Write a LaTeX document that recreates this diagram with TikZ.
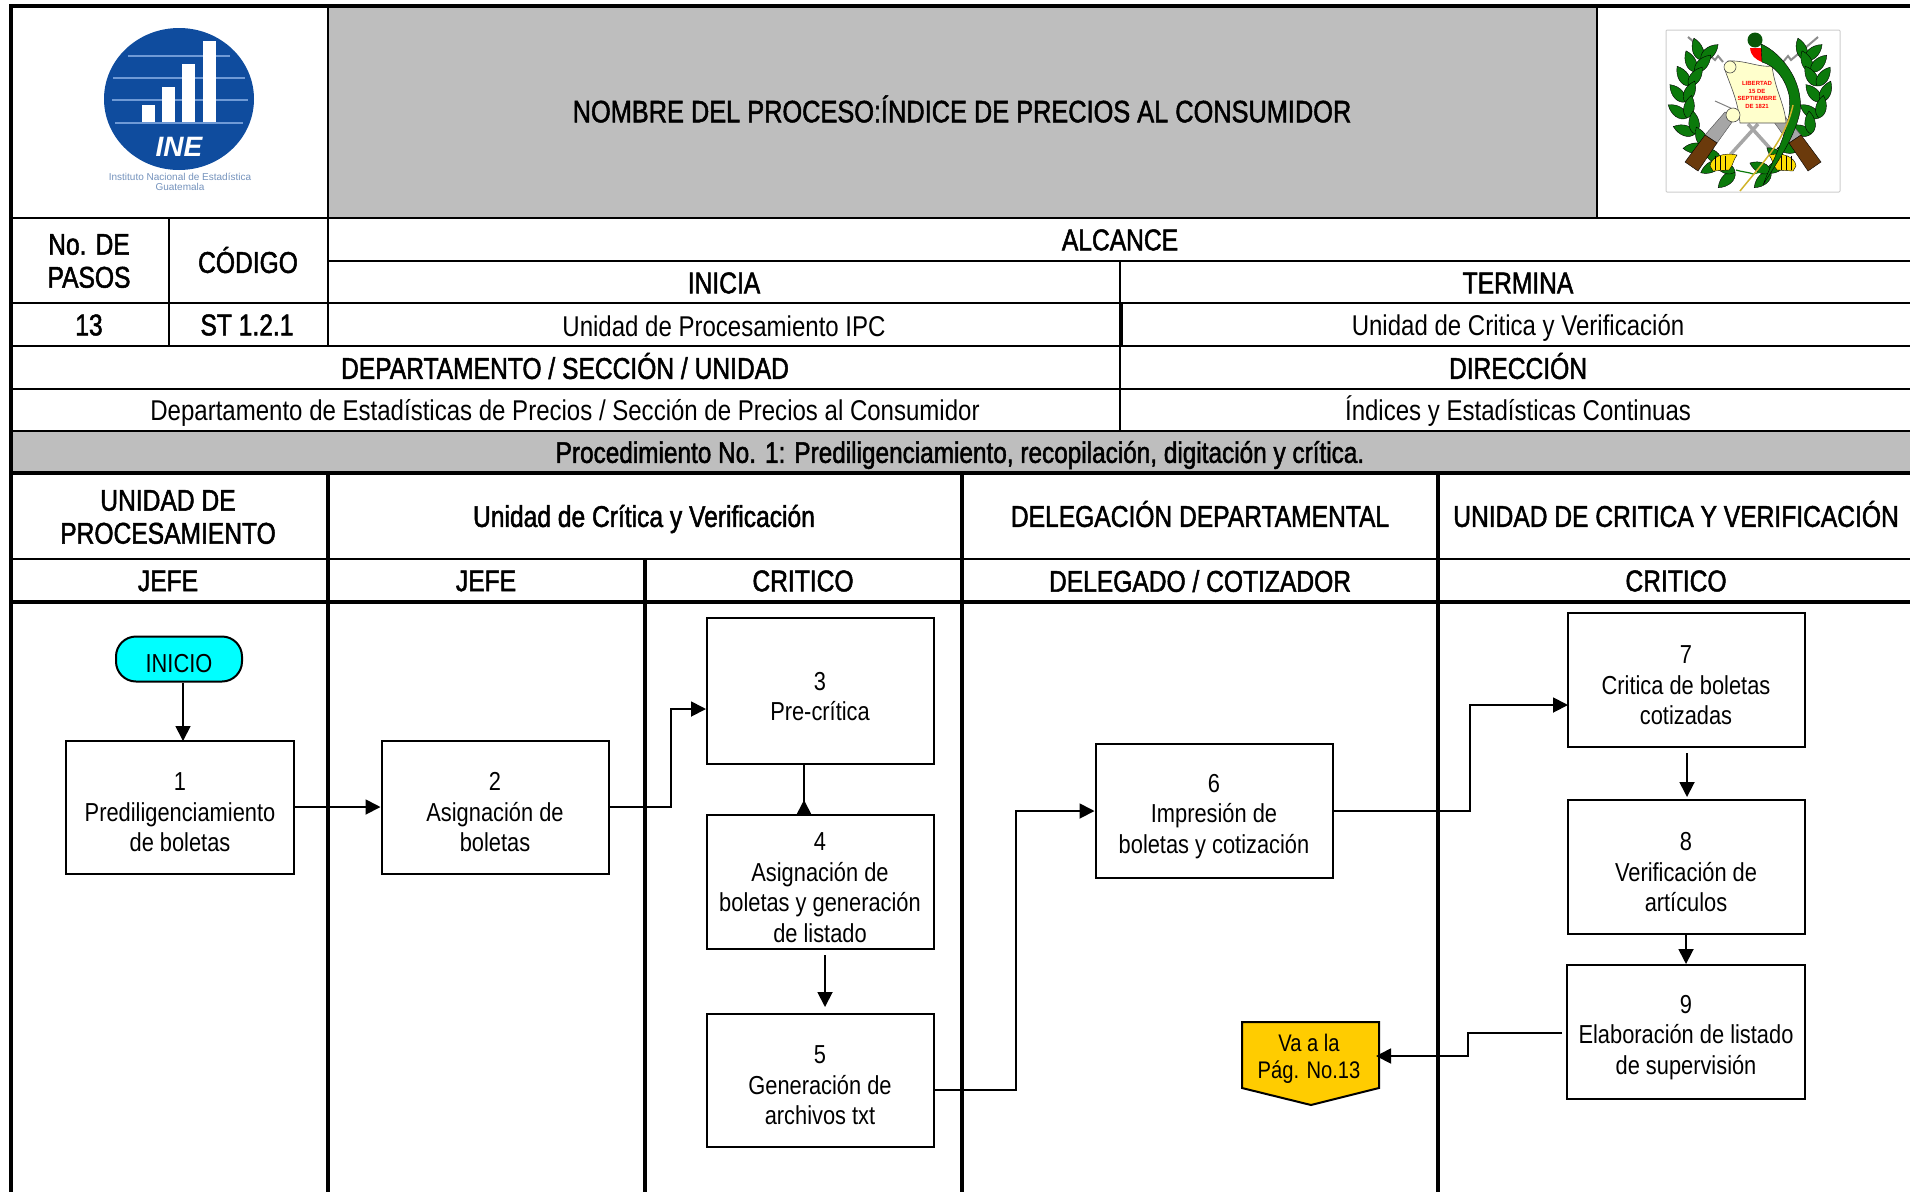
\documentclass[tikz,border=0pt]{standalone}
\usepackage{fontspec}
\setmainfont{Liberation Sans}
\newfontfamily\narrowfont[FakeStretch=0.84]{Liberation Sans}
\newfontfamily\headfont[FakeStretch=0.82,FakeBold=1.6]{Liberation Sans}
\usepackage{tikz}
\usetikzlibrary{arrows.meta}
\definecolor{bandgray}{HTML}{BEBEBE}
\definecolor{inicyan}{HTML}{00FFFF}
\definecolor{vayellow}{HTML}{FFCC00}
\definecolor{ineblue}{HTML}{0F4C9E}
\definecolor{ineline}{HTML}{6F9AD6}
\definecolor{leafgreen}{HTML}{0B7A0B}
\definecolor{stockbrown}{HTML}{6B3A0C}
\definecolor{scrollcream}{HTML}{FFFFCC}
\newcommand{\stepnum}[1]{\rule{0pt}{29pt}#1}
\tikzset{
  thinrule/.style={line width=2.4pt},
  thickrule/.style={line width=4.4pt},
  headtext/.style={font=\headfont\fontsize{30}{33}\selectfont, align=center, inner sep=0pt},
  celltext/.style={font=\narrowfont\fontsize{28.6}{31}\selectfont, align=center, inner sep=0pt},
  stepbox/.style={draw, line width=2pt, fill=white, inner sep=0pt, align=center,
    font=\narrowfont\fontsize{26}{30.5}\selectfont},
  flowline/.style={line width=1.8pt, -{Triangle[length=15pt,width=15pt]}},
  leaf/.pic={\fill[leafgreen,draw=black,line width=.4pt] (0,0) .. controls (4,7) and (15,7) .. (23,0) .. controls (15,-7) and (4,-7) .. (0,0);}
}
\begin{document}
\begin{tikzpicture}[x=1pt,y=-1pt]
  \useasboundingbox (0,0) rectangle (1910,1192);
  %bands
  \fill[bandgray] (328,6) rectangle (1597,218);
  \fill[bandgray] (11,431) rectangle (1910,473);
  %horizontal rules
  \foreach \y in {218,303,346,389,431,559}
      \draw[thinrule] (11,\y) -- (1910,\y);
  \draw[thinrule] (328,261) -- (1910,261);
  \foreach \y in {6,473,602}
      \draw[thickrule] (9,\y) -- (1910,\y);
  %vertical rules
  \draw[thickrule] (11,4) -- (11,1192);
  \draw[thinrule] (328,6) -- (328,346);
  \draw[thinrule] (169,218) -- (169,346);
  \draw[thinrule] (1120,261) -- (1120,431);
  \draw[thickrule] (1121,303) -- (1121,346);
  \draw[thinrule] (1597,6) -- (1597,218);
  \foreach \x in {328,962,1438}
      \draw[thickrule] (\x,473) -- (\x,1192);
  \draw[thickrule] (645,559) -- (645,1192);

  %header
  \node[headtext, font=\headfont\fontsize{30.9}{33}\selectfont] (title) at (962,109) {NOMBRE DEL PROCESO:ÍNDICE DE PRECIOS AL CONSUMIDOR};
  \node[headtext] (pasos) at (89,261) {No. DE\\PASOS};
  \node[headtext] (codigo) at (248,260) {CÓDIGO};
  \node[headtext] (alcance) at (1120,240) {ALCANCE};
  \node[headtext] (inicia) at (724,283) {INICIA};
  \node[headtext] (termina) at (1518,283) {TERMINA};
  \node[headtext] (numpasos) at (89,325) {13};
  \node[headtext] (numcodigo) at (247,325) {ST 1.2.1};
  \node[celltext] (desde) at (724,326) {Unidad de Procesamiento IPC};
  \node[celltext] (hasta) at (1518,328) {Unidad de Critica y Verificación};
  \node[headtext] (depto) at (565,366) {DEPARTAMENTO / SECCIÓN / UNIDAD};
  \node[headtext] (direccion) at (1518,366) {DIRECCIÓN};
  \node[celltext] (deptonom) at (565,413) {Departamento de Estadísticas de Precios / Sección de Precios al Consumidor};
  \node[celltext] (dirnom) at (1518,411) {Índices y Estadísticas Continuas};
  \node[headtext, font=\headfont\fontsize{29.7}{33}\selectfont] (proc) at (960,455) {Procedimiento No. 1: Prediligenciamiento, recopilación, digitación y crítica.};
  \node[headtext] (col1) at (168,517) {UNIDAD DE\\PROCESAMIENTO};
  \node[headtext] (col2) at (644,519) {Unidad de Crítica y Verificación};
  \node[headtext] (col3) at (1200,514) {DELEGACIÓN DEPARTAMENTAL};
  \node[headtext] (col4) at (1676,514) {UNIDAD DE CRITICA Y VERIFICACIÓN};
  \node[headtext] (rol1) at (168,581) {JEFE};
  \node[headtext] (rol2) at (486,581) {JEFE};
  \node[headtext] (rol3) at (803,581) {CRITICO};
  \node[headtext] (rol4) at (1200,581) {DELEGADO / COTIZADOR};
  \node[headtext] (rol5) at (1676,581) {CRITICO};

  %ine logo
  \fill[ineblue] (179,99) ellipse (75 and 71);
  \foreach \y/\a/\b in {56/128/230, 78/113/245, 100/112/248, 123/115/243}
      \draw[ineline, line width=1.2pt] (\a,\y) -- (\b,\y);
  \foreach \x/\y in {142/105, 162/87, 182/64, 203/41}
      \fill[white] (\x,\y) rectangle ++(13,{122-\y});
  \node[font=\bfseries\itshape\fontsize{28}{28}\selectfont, white, inner sep=0pt] (inetext) at (179,147) {INE};
  \node[font=\fontsize{10}{10.5}\selectfont, text=ineline!70!gray, align=center, inner sep=0pt] (inename) at (180,182) {Instituto Nacional de Estadística\\Guatemala};

  %coat of arms
  \draw[black!20, line width=1pt, rounded corners=1pt] (1666,30) rectangle (1840,192);
  \foreach \sx in {1,-1} {
    \begin{scope}[shift={(1753,0)}, xscale=\sx]
      %swords
      \draw[black!45, line width=2pt] (-65,37) -- (-38,60) -- (-35,56) -- (-30,62);
      \draw[black!35, line width=3.5pt] (-23,155) -- (5,124);
      %leaves
      \foreach \px/\py/\d in {-52/60/75, -58/72/80, -64/86/88, -68/102/98, -66/118/112, -58/134/128, -47/148/148, -32/162/175, -18/172/190}
      {
        \pic[rotate=\d+33] at (\px,\py) {leaf};
        \pic[rotate=\d-33] at (\px,\py) {leaf};
      }
      %rifle
      \fill[black!35, draw=black!70, line width=.4pt] (-36,143) -- (-48,135) -- (-28,112) -- (-18,118) -- cycle;
      \fill[stockbrown, draw=black, line width=.4pt] (-68,162) -- (-55,171) -- (-36,143) -- (-48,135) -- cycle;
      %tassels
      \fill[yellow!80!orange, draw=black, line width=.4pt] (-43,166) .. controls (-42,157) and (-30,152) .. (-16,155) .. controls (-20,160) and (-20,166) .. (-24,170) -- (-40,171) -- cycle;
      \foreach \x in {-38,-33,-28}
          \draw[black, line width=.5pt] (\x,156) -- (\x,170);
    \end{scope}
  }
  \draw[black!50, line width=1pt] (1715,101) -- (1735,110);
  \draw[leafgreen, line width=1.2pt] (1736,170) .. controls (1742,172) and (1748,172) .. (1753,174) .. controls (1760,172) and (1765,171) .. (1772,170);
  %scroll
  \fill[scrollcream, draw=black!70, line width=.6pt] (1728,61) .. controls (1745,60) and (1760,68) .. (1772,66) .. controls (1775,90) and (1785,105) .. (1786,123) -- (1740,123) .. controls (1738,100) and (1730,85) .. (1725,70) -- cycle;
  \draw[black!70, fill=scrollcream, line width=.6pt] (1730,67) circle (6);
  \draw[black!70, fill=scrollcream, line width=.6pt] (1733,115) circle (7);
  \node[font=\bfseries\fontsize{6}{7.8}\selectfont, text=red, align=center, inner sep=0pt] (lema) at (1757,95) {LIBERTAD\\15 DE\\SEPTIEMBRE\\DE 1821};
  %quetzal
  \fill[leafgreen!70!black] (1755,40) circle (7.5);
  \fill[red] (1750,48) -- (1762,48) -- (1762,62) .. controls (1755,59) and (1751,56) .. (1750,48);
  \fill[leafgreen, draw=black, line width=.4pt] (1761,44) .. controls (1780,52) and (1804,80) .. (1800,112) .. controls (1794,140) and (1775,165) .. (1763,185) .. controls (1772,160) and (1794,125) .. (1789,95) .. controls (1785,78) and (1775,66) .. (1762,62) -- cycle;
  \draw[yellow!70!orange!80!black, line width=1.5pt] (1793,105) .. controls (1785,140) and (1765,160) .. (1740,191);

  %process
  \node[draw, line width=2pt, fill=inicyan, rounded corners=20pt, minimum width=126pt, minimum height=45pt, inner sep=0pt, font=\narrowfont\fontsize{26}{30}\selectfont, execute at begin node=\rule{0pt}{27pt}] (inicio) at (179,659) {INICIO};
  \node[stepbox, minimum width=228pt, minimum height=133pt] (paso1) at (180,807) {\stepnum{1}\\Prediligenciamiento\\de boletas};
  \node[stepbox, minimum width=227pt, minimum height=133pt] (paso2) at (495,807) {\stepnum{2}\\Asignación de\\boletas};
  \node[stepbox, minimum width=227pt, minimum height=146pt] (paso3) at (820,691) {\stepnum{3}\\Pre-crítica};
  \node[stepbox, minimum width=227pt, minimum height=134pt] (paso4) at (820,882) {\stepnum{4}\\Asignación de\\boletas y generación\\de listado};
  \node[stepbox, minimum width=227pt, minimum height=133pt] (paso5) at (820,1080) {\stepnum{5}\\Generación de\\archivos txt};
  \node[stepbox, minimum width=237pt, minimum height=134pt] (paso6) at (1214,811) {\stepnum{6}\\Impresión de\\boletas y cotización};
  \node[stepbox, minimum width=237pt, minimum height=134pt] (paso7) at (1686,680) {\stepnum{7}\\Critica de boletas\\cotizadas};
  \node[stepbox, minimum width=237pt, minimum height=134pt] (paso8) at (1686,867) {\stepnum{8}\\Verificación de\\artículos};
  \node[stepbox, minimum width=238pt, minimum height=134pt] (paso9) at (1686,1032) {\stepnum{9}\\Elaboración de listado\\de supervisión};
  %connector page
  \draw[line width=2pt, fill=vayellow] (1242,1022) -- (1379,1022) -- (1379,1088) -- (1311,1105) -- (1242,1088) -- cycle;
  \node[font=\narrowfont\fontsize{24}{27}\selectfont, align=center, inner sep=0pt] (vaala) at (1309,1059) {Va a la\\Pág. No.13};

  %free ends
  \coordinate (in3) at (706,709);
  \coordinate (out3) at (804,763);
  \coordinate (in4) at (804,815);
  \coordinate (out4) at (825,955);
  \coordinate (in5) at (825,1007);
  \coordinate (out5) at (934,1090);
  \coordinate (in7) at (1568,705);
  \coordinate (out7) at (1687,753);
  \coordinate (in8) at (1687,797);
  \coordinate (out9) at (1562,1033);
  \coordinate (inva) at (1376,1056);
  %arrows
  \draw[flowline] (inicio.south -| 183,0) -- (183,741);
  \draw[flowline] (paso1.east) -- (paso2.west);
  \draw[flowline] (paso2.east) -- (671,807) |- (in3);
  \draw[line width=1.8pt, -{Triangle[length=15pt,width=15pt,reversed]}] (out3) -- (in4);
  \draw[flowline] (out4) -- (in5);
  \draw[flowline] (out5) -- (1016,1090) |- (paso6.west);
  \draw[flowline] (paso6.east) -- (1470,811) |- (in7);
  \draw[flowline] (out7) -- (in8);
  \draw[flowline] (paso8.south) -- (paso9.north);
  \draw[flowline] (out9) -- (1468,1033) -- (1468,1056) -- (inva);
\end{tikzpicture}
\end{document}
